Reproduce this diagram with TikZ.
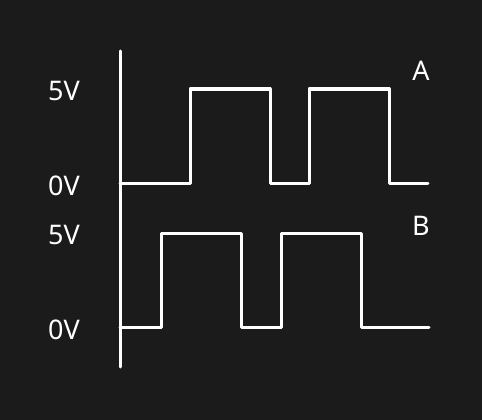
\documentclass[tikz,border=0pt]{standalone}
\usepackage{fontspec}
\setmainfont{Noto Sans}
\definecolor{bg}{HTML}{1B1B1B}
\begin{document}
\begin{tikzpicture}[x=1pt,y=-1pt,line width=3pt,line join=round,line cap=round,
  every node/.style={text=white,font=\fontsize{27}{30}\selectfont,inner sep=0pt}]
        \fill[bg] (0,0) rectangle (482,420);
        \useasboundingbox (0,0) rectangle (482,420);

        \node (a5) at (64,91) {5V};
        \node (a0) at (64,186) {0V};
        \node (b5) at (64,235) {5V};
        \node (b0) at (64,330) {0V};
        \node (la) at (421,71) {A};
        \node (lb) at (421,226) {B};

        \draw[white] (120,51) -- (120,367);
        \draw[white] (120,183) -- (190,183) -- (190,89) -- (270,89) -- (270,183) -- (309,183)
            -- (309,89) -- (389,89) -- (389,183) -- (428,183);
        \draw[white] (120,327) -- (161,327) -- (161,233) -- (241,233) -- (241,327) -- (281,327)
            -- (281,233) -- (361,233) -- (361,327) -- (429,327);
\end{tikzpicture}
\end{document}
